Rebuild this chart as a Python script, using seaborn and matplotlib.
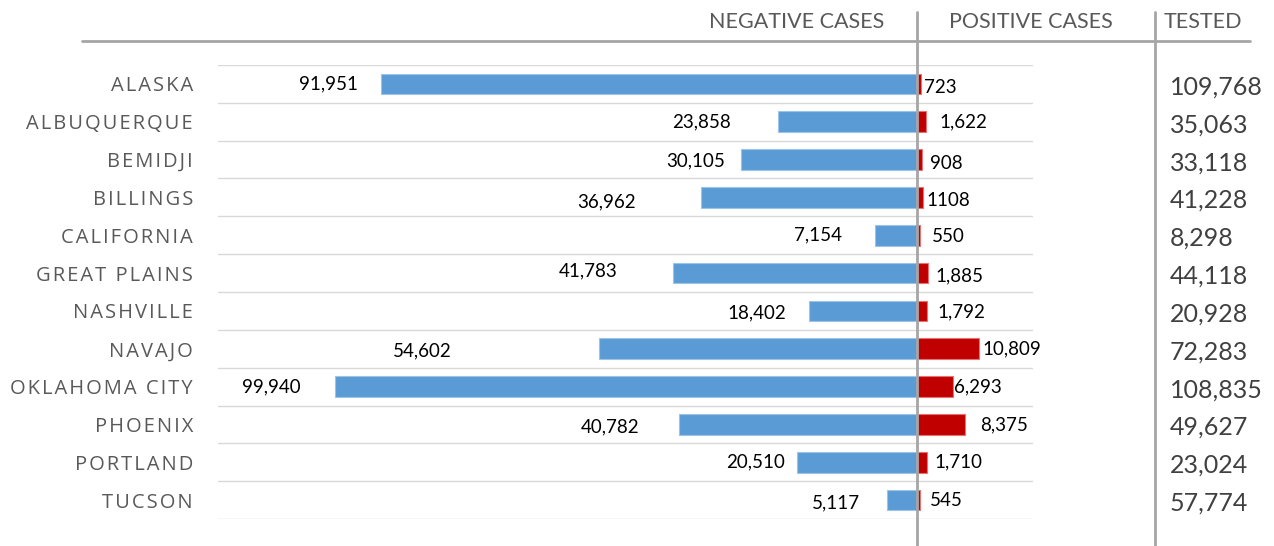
import numpy as np
import pandas as pd
import seaborn as sns
import matplotlib.pyplot as plt
from matplotlib.lines import Line2D

# Dados
regioes = ['ALASKA', 'ALBUQUERQUE', 'BEMIDJI', 'BILLINGS', 'CALIFORNIA', 'GREAT PLAINS',
           'NASHVILLE', 'NAVAJO', 'OKLAHOMA CITY', 'PHOENIX', 'PORTLAND', 'TUCSON']
negativos = [91951, 23858, 30105, 36962, 7154, 41783, 18402, 54602, 99940, 40782, 20510, 5117]
positivos = [723, 1622, 908, 1108, 550, 1885, 1792, 10809, 6293, 8375, 1710, 545]
positivos_txt = ['723', '1,622', '908', '1108', '550', '1,885', '1,792', '10,809',
                 '6,293', '8,375', '1,710', '545']
testados = [109768, 35063, 33118, 41228, 8298, 44118, 20928, 72283, 108835, 49627, 23024, 57774]

# deslocamento dos rótulos (pixels) - posição irregular como no original
neg_dx = [23, 47, 16, 66, 33, 56, 23, 147, 34, 40, 12, 27]
neg_dy = [0, 0, 1, 4, 0, -2, 2, 2, 0, 2, 0, 3]
pos_dx = [3, 13, 8, 3, 12, 8, 10, 3, 1, 15, 8, 10]
pos_dy = [4, 0, 4, 3, 1, 3, 1, 0, 0, 0, 0, 0]

df = pd.DataFrame({'regiao': regioes, 'neg': [-v for v in negativos], 'pos': positivos})

sns.set_style('white')
plt.rcParams['font.family'] = ['Lato', 'DejaVu Sans']

W, H = 1274, 546
fig = plt.figure(figsize=(W / 100, H / 100), dpi=100)
ax = fig.add_axes([218 / W, 1 - 519 / H, 815 / W, 454 / H])

azul = '#5B9BD5'
vermelho = '#C00000'
cinza_txt = '#595959'
cinza_linha = '#A6A6A6'

sns.barplot(data=df, x='neg', y='regiao', color=azul, width=0.55, saturation=1,
            edgecolor='#9DC3E6', linewidth=0.8, ax=ax, orient='h')
sns.barplot(data=df, x='pos', y='regiao', color=vermelho, width=0.55, saturation=1,
            edgecolor='#E57373', linewidth=0.8, ax=ax, orient='h')

ax.set_xlim(-120000, 20000)
ax.set_ylim(len(regioes) - 0.5, -0.5)
ax.set_xlabel('')
ax.set_ylabel('')
ax.set_xticks([])
for s in ax.spines.values():
    s.set_visible(False)

# linhas de grade entre as linhas
for b in np.arange(-0.5, len(regioes), 1.0):
    ax.axhline(b, color='#D9D9D9', lw=1, zorder=0)

# espaçamento entre letras (hair space)
espacado = ['\u200a'.join(r) for r in regioes]
ax.tick_params(axis='y', length=0, pad=18)
ax.set_yticks(range(len(regioes)))
ax.set_yticklabels(espacado, fontsize=14.5, color=cinza_txt, family=['Open Sans', 'DejaVu Sans'])

# rótulos
for i in range(len(regioes)):
    ax.annotate(f'{negativos[i]:,}', xy=(-negativos[i], i), xytext=(-neg_dx[i], -neg_dy[i]),
                textcoords='offset pixels', ha='right', va='center', fontsize=13.5, color='black')
    ax.annotate(positivos_txt[i], xy=(positivos[i], i), xytext=(pos_dx[i], -pos_dy[i]),
                textcoords='offset pixels', ha='left', va='center', fontsize=13.5, color='black')
    ax.annotate(f'{testados[i]:,}', xy=((1170 - 218) / 815, i), xycoords=ax.get_yaxis_transform(),
                xytext=(0, -3), textcoords='offset pixels', ha='left', va='center',
                fontsize=18, color='#404040')

# linha do zero
ax.axvline(0, ymin=(519 - 546) / 454, ymax=(519 - 12) / 454, color=cinza_linha, lw=2,
           clip_on=False, zorder=5)

# cabeçalho
fig.add_artist(Line2D([82 / W, 1250 / W], [1 - 41 / H, 1 - 41 / H], color=cinza_linha, lw=2))
fig.add_artist(Line2D([1155 / W, 1155 / W], [1 - 12 / H, 0], color=cinza_linha, lw=2))
fig.text(797 / W, 1 - 22 / H, 'NEGATIVE CASES', ha='center', va='center', fontsize=15.5,
         color=cinza_txt)
fig.text(1031 / W, 1 - 22 / H, 'POSITIVE CASES', ha='center', va='center', fontsize=15.5,
         color=cinza_txt)
fig.text(1203 / W, 1 - 22 / H, 'TESTED', ha='center', va='center', fontsize=15.5,
         color=cinza_txt)

fig.savefig('out.png', dpi=100)
